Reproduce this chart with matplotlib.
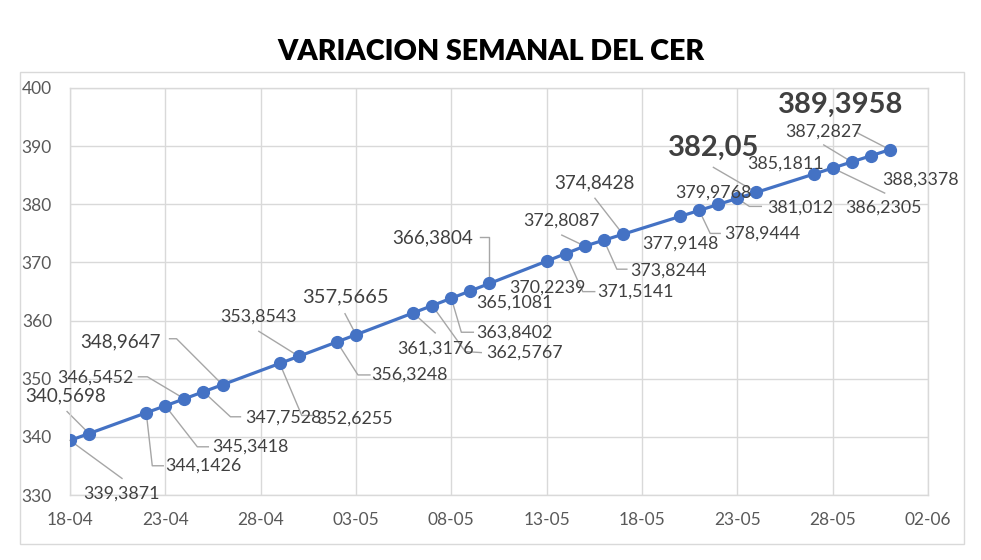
import matplotlib
matplotlib.use("Agg")
import matplotlib.pyplot as plt
import matplotlib.dates as mdates
import matplotlib.transforms as mtrans
from matplotlib.lines import Line2D
from matplotlib.patches import Rectangle
import numpy as np
import datetime as dt

# ---------------- data ----------------
dates = ["2024-04-18", "2024-04-19", "2024-04-22", "2024-04-23", "2024-04-24",
         "2024-04-25", "2024-04-26", "2024-04-29", "2024-04-30", "2024-05-02",
         "2024-05-03", "2024-05-06", "2024-05-07", "2024-05-08", "2024-05-09",
         "2024-05-10", "2024-05-13", "2024-05-14", "2024-05-15", "2024-05-16",
         "2024-05-17", "2024-05-20", "2024-05-21", "2024-05-22", "2024-05-23",
         "2024-05-24", "2024-05-27", "2024-05-28", "2024-05-29", "2024-05-30",
         "2024-05-31"]
cer = [339.3871, 340.5698, 344.1426, 345.3418, 346.5452,
       347.7528, 348.9647, 352.6255, 353.8543, 356.3248,
       357.5665, 361.3176, 362.5767, 363.8402, 365.1081,
       366.3804, 370.2239, 371.5141, 372.8087, 373.8244,
       374.8428, 377.9148, 378.9444, 379.9768, 381.012,
       382.05, 385.1811, 386.2305, 387.2827, 388.3378,
       389.3958]
labels = ["339,3871", "340,5698", "344,1426", "345,3418", "346,5452",
          "347,7528", "348,9647", "352,6255", "353,8543", "356,3248",
          "357,5665", "361,3176", "362,5767", "363,8402", "365,1081",
          "366,3804", "370,2239", "371,5141", "372,8087", "373,8244",
          "374,8428", "377,9148", "378,9444", "379,9768", "381,012",
          "382,05", "385,1811", "386,2305", "387,2827", "388,3378",
          "389,3958"]
title = "VARIACION SEMANAL DEL CER"
x_start, x_end = "2024-04-18", "2024-06-02"
y_min, y_max, y_step = 330, 400, 10

# ---------------- label layout (pixel offsets, image y down) ----------------
# style: 0 normal, 1 medium, 3 medium-large, 2 big bold
label_style = [0, 1, 0, 0, 0, 0, 1, 0, 0, 0,
               3, 0, 0, 0, 0, 1, 0, 0, 0, 0,
               1, 0, 0, 0, 0, 2, 0, 0, 0, 0, 2]
label_off = [(51, 53), (-23, -38), (57, 53), (85, 41), (-89, -21),
             (80, 26), (-102, -43), (75, 55), (-40, -40), (73, 33),
             (-11, -38), (22, 36), (92, 47), (63, 34), (44, 12),
             (-57, -46), (1, 26), (70, 38), (-23, -25), (65, 30),
             (-28, -51), (0, 27), (63, 23), (-5, -12), (63, 9),
             (-43, -45), (-28, -11), (51, 40), (-28, -30), (50, 24),
             (-49, -45)]
leaders = [[(0, 0), (52, 38)],
           [(-22, -22), (0, 0)],
           [(0, 0), (6, 53), (17, 53)],
           [(0, 0), (32, 41), (43, 41)],
           [(-46, -22), (-37, -22), (0, 0)],
           [(0, 0), (27, 25), (37, 25)],
           [(-53, -46), (-46, -46), (0, 0)],
           [(0, 0), (22, 52), (33, 52)],
           [(-40, -25), (0, 0)],
           [(0, 0), (21, 33), (33, 33)],
           [(-11, -21), (0, 0)],
           [(0, 0), (22, 20)],
           [(0, 0), (33, 46), (49, 47)],
           [(0, 0), (10, 34), (22, 34)],
           None,
           [(-9, -46), (0, -46), (0, 0)],
           None,
           [(0, 0), (17, 38), (29, 38)],
           [(-23, -11), (0, 0)],
           [(0, 0), (13, 29), (23, 29)],
           [(-28, -36), (0, 0)],
           None,
           [(0, 0), (11, 23), (21, 23)],
           None,
           [(0, 0), (12, 8), (24, 8)],
           [(-43, -25), (0, 0)],
           None,
           [(0, 0), (52, 25)],
           [(-28, -17), (0, 0)],
           None,
           [(-33, -17), (0, 0)]]

# ---------------- figure ----------------
W, H = 981, 560
fig = plt.figure(figsize=(W / 100, H / 100), dpi=100)
plt.rcParams['font.family'] = ['Lato', 'DejaVu Sans']

# outer chart border
fig.add_artist(Rectangle((20 / W, 1 - 544 / H), (964 - 20) / W, (544 - 72) / H,
                         transform=fig.transFigure, fill=False,
                         edgecolor='#d9d9d9', lw=1.0))

ax = fig.add_axes([70 / W, 1 - 495 / H, (928 - 70) / W, (495 - 88) / H])

xd = mdates.date2num([dt.datetime.strptime(d, "%Y-%m-%d") for d in dates])
x0 = mdates.date2num(dt.datetime.strptime(x_start, "%Y-%m-%d"))
x1 = mdates.date2num(dt.datetime.strptime(x_end, "%Y-%m-%d"))

line_color = '#4472C4'
ax.plot(xd, cer, color=line_color, lw=2.3, marker='o', markersize=8.5,
        markerfacecolor=line_color, markeredgecolor=line_color, zorder=3)

ax.set_xlim(x0, x1)
ax.set_ylim(y_min, y_max)
ax.set_xticks(np.arange(x0, x1 + 0.5, 5))
ax.xaxis.set_major_formatter(mdates.DateFormatter('%d-%m'))
ax.set_yticks(np.arange(y_min, y_max + 1, y_step))
ax.grid(True, color='#d9d9d9', lw=1.0)
ax.set_axisbelow(True)
for s in ax.spines.values():
    s.set_color('#d9d9d9')
    s.set_linewidth(1.0)
ax.tick_params(axis='both', length=0, colors='#595959', labelsize=12.5)
ax.tick_params(axis='y', pad=13)
ax.tick_params(axis='x', pad=12)

fig.text(491 / W, 1 - 52 / H, title, ha='center', va='center',
         fontsize=20.6, fontweight='heavy', color='black')

# data labels
sizes = {0: 12.8, 1: 13.6, 2: 21, 3: 14.5}
weights = {0: 'normal', 1: 'normal', 2: 'bold', 3: 'normal'}
scale = fig.dpi / 100.0
for i, (xv, yv) in enumerate(zip(xd, cer)):
    dx, dy = label_off[i]
    st = label_style[i]
    ax.annotate(labels[i], xy=(xv, yv), xytext=(dx * scale, -dy * scale),
                textcoords='offset pixels', ha='center', va='center',
                fontsize=sizes[st], fontweight=weights[st], color='#404040',
                zorder=4)
    if leaders[i] is not None:
        px = [p[0] for p in leaders[i]]
        py = [-p[1] for p in leaders[i]]
        tr = mtrans.Affine2D().scale(scale) + mtrans.ScaledTranslation(xv, yv, ax.transData)
        ax.add_line(Line2D(px, py, transform=tr, color='#a6a6a6', lw=1.0,
                           zorder=2, clip_on=False))

fig.savefig("out.png", dpi=100)
